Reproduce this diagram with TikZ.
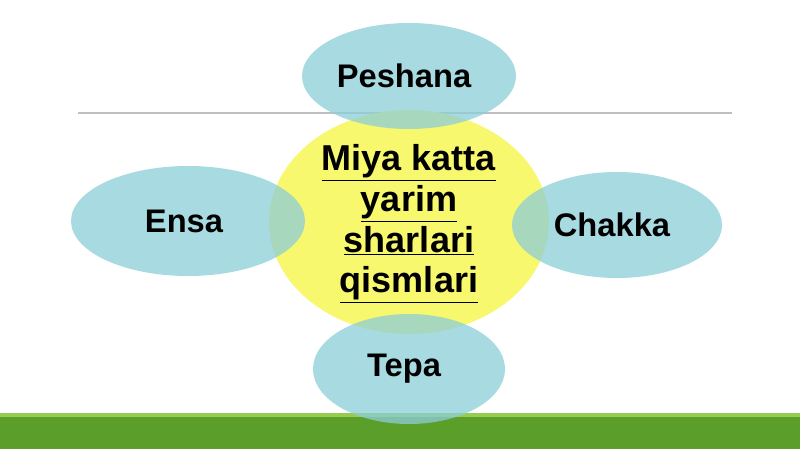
\documentclass[tikz,border=0pt]{standalone}
\usepackage{fontspec}
\setmainfont{Liberation Sans}
\begin{document}
\begin{tikzpicture}[x=0.75pt,y=-0.75pt,
  lbl/.style={font=\bfseries\fontsize{24.5}{29}\selectfont},
  petal/.style={fill=tealc,fill opacity=0.75},
  ]
\definecolor{tealc}{RGB}{140,206,216}
\definecolor{yel}{RGB}{248,248,110}
\definecolor{gdark}{RGB}{92,158,42}
\definecolor{glight}{RGB}{150,205,80}
\useasboundingbox (0,0) rectangle (800,449);
\fill[white] (0,0) rectangle (800,449);
\fill[gdark] (0,413) rectangle (800,449);
\fill[glight] (0,413) rectangle (800,417);
\draw[gray!50,line width=0.8pt] (78,113) -- (732,113);
\path[fill=yel] (409,222) ellipse [x radius=140,y radius=112];
\fill[petal] (409,76) ellipse [x radius=107,y radius=53];
\fill[petal] (188,221) ellipse [x radius=117,y radius=55];
\fill[petal] (617,225) ellipse [x radius=105,y radius=53];
\fill[petal] (409,369) ellipse [x radius=96,y radius=55];
\node[lbl] (p) at (404,76) {Peshana};
\node[lbl] (e) at (184,221) {Ensa};
\node[lbl] (c) at (612,225) {Chakka};
\node[lbl] (t) at (404,369) {Tepa};
\node[font=\bfseries\fontsize{27}{30.5}\selectfont,align=center] (m) at (409,224)
  {\underline{Miya katta}\\\underline{yarim}\\\underline{sharlari}\\\underline{qismlari}};
\end{tikzpicture}
\end{document}
